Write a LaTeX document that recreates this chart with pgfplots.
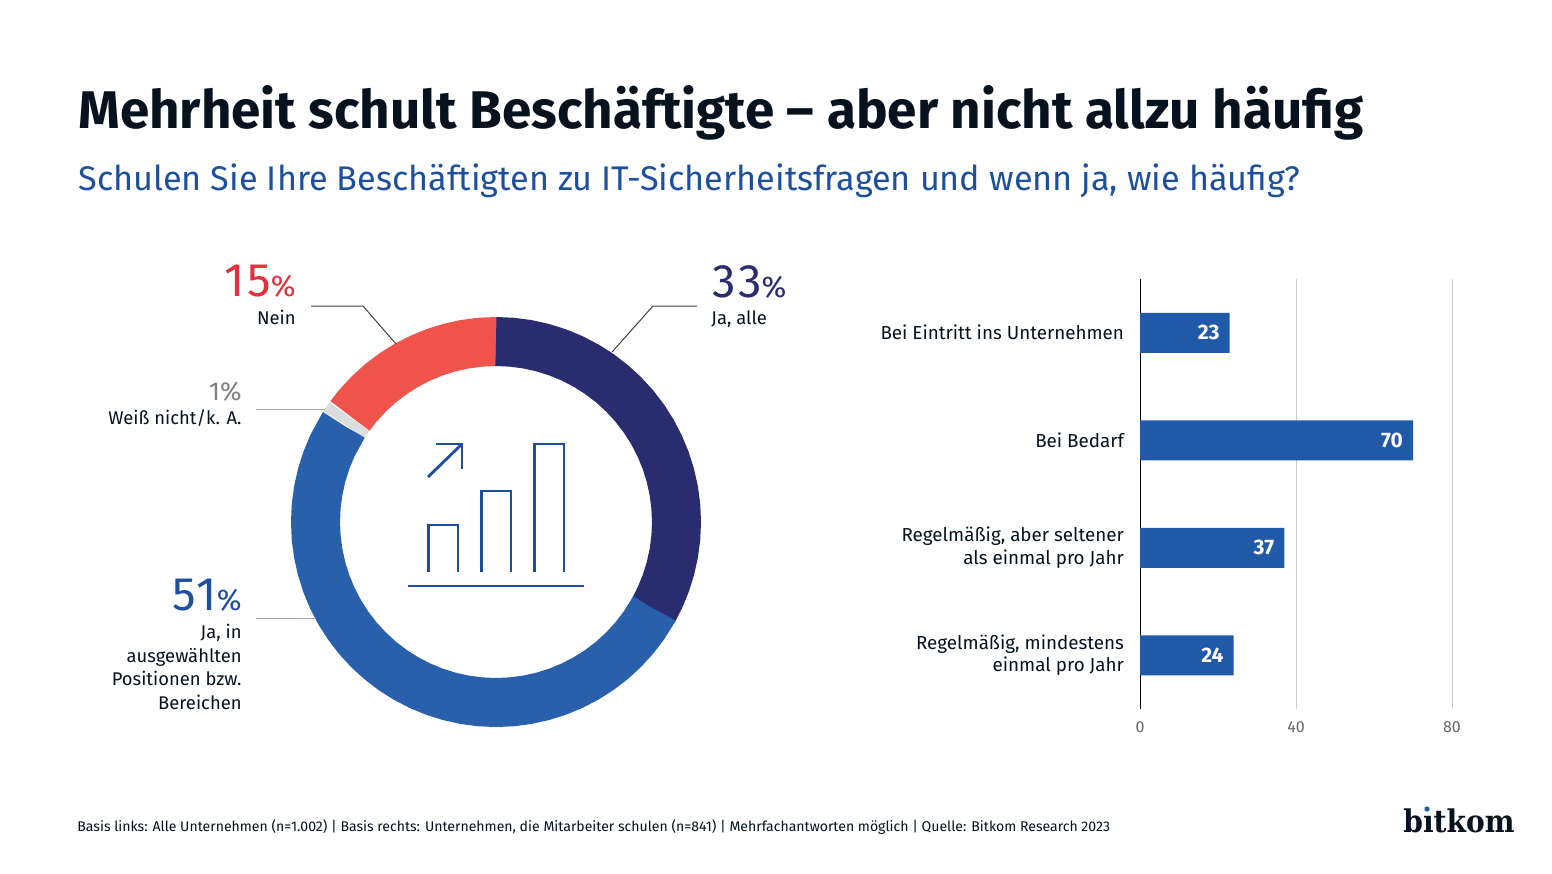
\documentclass[border=0pt]{standalone}
\usepackage{fontspec}
\setmainfont{Fira Sans}
\newfontfamily\logofont{DejaVu Serif Condensed}
\usepackage{pgfplots}
\usepgfplotslibrary{polar}
\pgfplotsset{compat=1.18}
\definecolor{navy}{HTML}{2A2C70}
\definecolor{ringblue}{HTML}{2860AC}
\definecolor{ringred}{HTML}{F0524C}
\definecolor{ringgrey}{HTML}{D9DDDD}
\definecolor{textblue}{HTML}{1D4F9C}
\definecolor{numred}{HTML}{E3303A}
\definecolor{barblue}{HTML}{2059A8}
\definecolor{ink}{HTML}{06121E}
\newcommand\bignum[1]{\fontsize{23.5}{24}\selectfont\addfontfeature{LetterSpace=5}#1\fontsize{15}{14}\selectfont\addfontfeature{LetterSpace=0}\%}
\begin{document}
% picture units are reference pixels, y runs downwards
\begin{tikzpicture}[x=0.5pt,y=-0.5pt,
    lab/.style={inner sep=0pt,font=\fontsize{9.2}{11.75}\selectfont,text=ink},
    leader/.style={line width=0.5pt}]
  \useasboundingbox (0,0) rectangle (1552,873);

  % titles
  \node[anchor=base west,inner sep=0pt,text=ink] at (78,128)
    {\fontsize{26.5}{30}\selectfont\bfseries Mehrheit schult Beschäftigte – aber nicht allzu häufig};
  \node[anchor=base west,inner sep=0pt,text=textblue] at (78,190)
    {\fontsize{17.1}{20}\selectfont Schulen Sie Ihre Beschäftigten zu IT-Sicherheitsfragen und wenn ja, wie häufig?};

  % donut (the extra points next to each end keep the butt caps radial)
  \begin{polaraxis}[at={(248pt,-261pt)},anchor=origin,
      width=205pt,height=205pt,scale only axis,
      ymin=0,ymax=205,hide axis,clip=false]
    \addplot[ringred,line width=24.5pt,no marks] coordinates {
      (144,180.5) (143.9,180.5) (140,180.5) (135,180.5) (130,180.5) (125,180.5) (120,180.5) (115,180.5)
      (110,180.5) (105,180.5) (100,180.5) (95,180.5) (90,180.5) (89,180.5)};
    \addplot[navy,line width=24.5pt,no marks] coordinates {
      (90,180.5) (89.9,180.5) (85,180.5) (80,180.5) (75,180.5) (70,180.5) (65,180.5) (60,180.5) (55,180.5)
      (50,180.5) (45,180.5) (40,180.5) (35,180.5) (30,180.5) (25,180.5) (20,180.5) (15,180.5)
      (10,180.5) (5,180.5) (0,180.5) (-5,180.5) (-10,180.5) (-15,180.5) (-20,180.5) (-25,180.5)
      (-28.8,180.5) (-29.5,180.5)};
    \addplot[ringblue,line width=24.5pt,no marks] coordinates {
      (-28.8,180.5) (-28.9,180.5) (-35,180.5) (-40,180.5) (-45,180.5) (-50,180.5) (-55,180.5) (-60,180.5)
      (-65,180.5) (-70,180.5) (-75,180.5) (-80,180.5) (-85,180.5) (-90,180.5) (-95,180.5)
      (-100,180.5) (-105,180.5) (-110,180.5) (-115,180.5) (-120,180.5) (-125,180.5) (-130,180.5)
      (-135,180.5) (-140,180.5) (-145,180.5) (-150,180.5) (-155,180.5) (-160,180.5) (-165,180.5)
      (-170,180.5) (-175,180.5) (-180,180.5) (-185,180.5) (-190,180.5) (-195,180.5) (-200,180.5)
      (-205,180.5) (-212.3,180.5) (-212.4,180.5)};
    \addplot[ringgrey,line width=24.5pt,no marks] coordinates {
      (147.2,180.5) (147.1,180.5) (144.4,180.5) (144.3,180.5)};
  \end{polaraxis}

  % icon inside the donut
  \begin{scope}[textblue,line width=1.4pt]
    \draw (428.5,572) -- (428.5,525) -- (458,525) -- (458,572);
    \draw (481.5,572) -- (481.5,491) -- (511,491) -- (511,572);
    \draw (534.5,572) -- (534.5,444) -- (564,444) -- (564,572);
    \draw (428,477) -- (462,444);
    \draw (436,444) -- (462,444) -- (462,469);
    \draw[line width=1pt] (408,586) -- (584,586);
  \end{scope}

  % leader lines
  \draw[leader,black!75] (311,306) -- (363,306) -- (396,344);
  \draw[leader,black!75] (697,306) -- (653,306) -- (612,352);
  \draw[leader,black!35] (256,409) -- (325,409);
  \draw[leader,black!35] (256,618) -- (316,618);

  % donut labels
  \node[anchor=base east,inner sep=0pt,text=numred] at (296,296) {\bignum{15}};
  \node[lab,anchor=base east] at (296,324) {Nein};
  \node[anchor=base west,inner sep=0pt,text=navy] at (712,297) {\bignum{33}};
  \node[lab,anchor=base west] at (711,324) {Ja, alle};
  \node[anchor=base east,inner sep=0pt,text=black!50] at (242,400)
    {\fontsize{13}{13}\selectfont 1\%};
  \node[lab,anchor=base east] at (242,424) {Weiß nicht/k. A.};
  \node[anchor=base east,inner sep=0pt,text=textblue] at (242,610) {\bignum{51}};
  \node[lab,anchor=north east,align=right] at (242,624) {Ja, in\\ausgewählten\\Positionen bzw.\\Bereichen};

  % bars
  \begin{axis}[at={(570pt,-354.5pt)},anchor=south west,
      width=156pt,height=215pt,scale only axis,
      xbar,bar width=20pt,
      xmin=0,xmax=80,ymin=-0.5,ymax=3.5,y dir=reverse,
      axis lines=left,axis line style={-},
      x axis line style={draw=none},
      y axis line style={black,line width=0.4pt},
      xtick={0,40,80},ytick={0,1,2,3},
      major tick length=0pt,
      xmajorgrids,grid style={black!20,line width=0.5pt},
      yticklabels={Bei Eintritt ins Unternehmen,Bei Bedarf,{Regelmäßig, aber seltener\\als einmal pro Jahr},{Regelmäßig, mindestens\\einmal pro Jahr}},
      yticklabel style={align=right,font=\fontsize{9.4}{11.2}\selectfont,text=ink,xshift=-4.5pt},
      xticklabel style={font=\fontsize{8}{9}\selectfont,text=black!60,yshift=-3pt},
      /pgf/number format/assume math mode=true,
      nodes near coords,
      nodes near coords style={anchor=east,text=white,font=\fontsize{10.5}{11}\selectfont\bfseries,xshift=-1.5pt},
    ]
    \addplot[fill=barblue,draw=none] coordinates {(23,0) (70,1) (37,2) (24,3)};
  \end{axis}

  % footer and logo
  \node[anchor=base west,inner sep=0pt,text=ink] at (77,831)
    {\fontsize{7.03}{8}\selectfont Basis links: Alle Unternehmen (n=1.002) | Basis rechts: Unternehmen, die Mitarbeiter schulen (n=841) | Mehrfachantworten möglich | Quelle: Bitkom Research 2023};
  \node[anchor=base west,inner sep=0pt,text=ink] at (1403,832)
    {\logofont\bfseries\fontsize{15.6}{16}\selectfont bıtkom};
  \fill[barblue] (1427,809) circle (2.6);
\end{tikzpicture}
\end{document}
